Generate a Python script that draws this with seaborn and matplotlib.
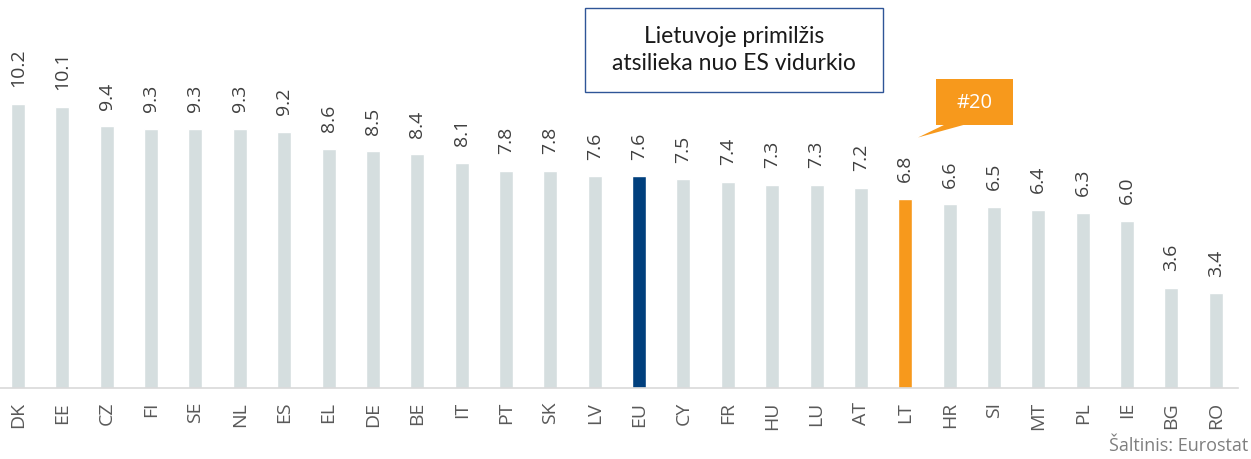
import seaborn as sns
import pandas as pd
import matplotlib.pyplot as plt
from matplotlib.patches import Rectangle, Polygon

# Duomenys
salys = ['DK', 'EE', 'CZ', 'FI', 'SE', 'NL', 'ES', 'EL', 'DE', 'BE', 'IT', 'PT', 'SK', 'LV',
         'EU', 'CY', 'FR', 'HU', 'LU', 'AT', 'LT', 'HR', 'SI', 'MT', 'PL', 'IE', 'BG', 'RO']
reiksmes = [10.2, 10.1, 9.4, 9.3, 9.3, 9.3, 9.2, 8.6, 8.5, 8.4, 8.1, 7.8, 7.8, 7.6,
            7.6, 7.5, 7.4, 7.3, 7.3, 7.2, 6.8, 6.6, 6.5, 6.4, 6.3, 6.0, 3.6, 3.4]

pilka = '#d5dedf'
oranzine = '#f7991c'
spalvos = {s: pilka for s in salys}
spalvos['EU'] = '#003f7d'
spalvos['LT'] = oranzine

data = pd.DataFrame({'salis': salys, 'reiksme': reiksmes})

sns.set_style("white")
plt.rcParams['font.family'] = ['Open Sans', 'DejaVu Sans']

W, H = 1251, 459
fig = plt.figure(figsize=(W / 100, H / 100), dpi=100)
ax = fig.add_axes([0, (H - 388) / H, 1238 / W, 388 / H])

sns.barplot(x='salis', y='reiksme', hue='salis', data=data, palette=spalvos,
            width=0.315, legend=False, ax=ax, saturation=1)

ax.set_xlim(-0.406, 27.5)
ax.set_ylim(0, 13.94)
ax.set_xlabel('')
ax.set_ylabel('')
ax.set_yticks([])
ax.tick_params(axis='x', length=0, pad=10, labelsize=14, labelcolor='#595959', labelrotation=90)
sns.despine(ax=ax, left=True, top=True, right=True)
ax.spines['bottom'].set_color('#d9d9d9')
ax.spines['bottom'].set_linewidth(1.2)

# reiksmiu etiketes
for i, v in enumerate(reiksmes):
    ax.annotate(f'{v:.1f}', xy=(i, v), xytext=(0, 12), textcoords='offset points',
                rotation=90, ha='center', va='bottom', fontsize=14, color='#404040')


def px(x, y):
    # pikseliai -> figuros koordinates
    return (x / W, 1 - y / H)


# teksto deze
fig.patches.append(Rectangle(px(585, 92), 298 / W, 84 / H, transform=fig.transFigure,
                             fc='white', ec='#2f5597', lw=1))
fig.text(*px(734, 50), 'Lietuvoje primilžis\natsilieka nuo ES vidurkio',
         ha='center', va='center', fontsize=16.5, color='#1a1a1a', linespacing=1.3,
         family=['Lato', 'DejaVu Sans'])

# #20 issnasa
fig.patches.append(Rectangle(px(936, 125), 77 / W, 46 / H, transform=fig.transFigure,
                             fc=oranzine, ec='none'))
fig.patches.append(Polygon([px(946, 124), px(967, 124), px(918, 137.5)], closed=True,
                           transform=fig.transFigure, fc=oranzine, ec='none'))
fig.text(*px(974.5, 103), '#20', ha='center', va='center', fontsize=14.5, color='white')

fig.text(1248 / W, 4 / H, 'Šaltinis: Eurostat', ha='right', va='bottom',
         fontsize=13, color='#7f7f7f')

fig.savefig('out.png', dpi=100)
